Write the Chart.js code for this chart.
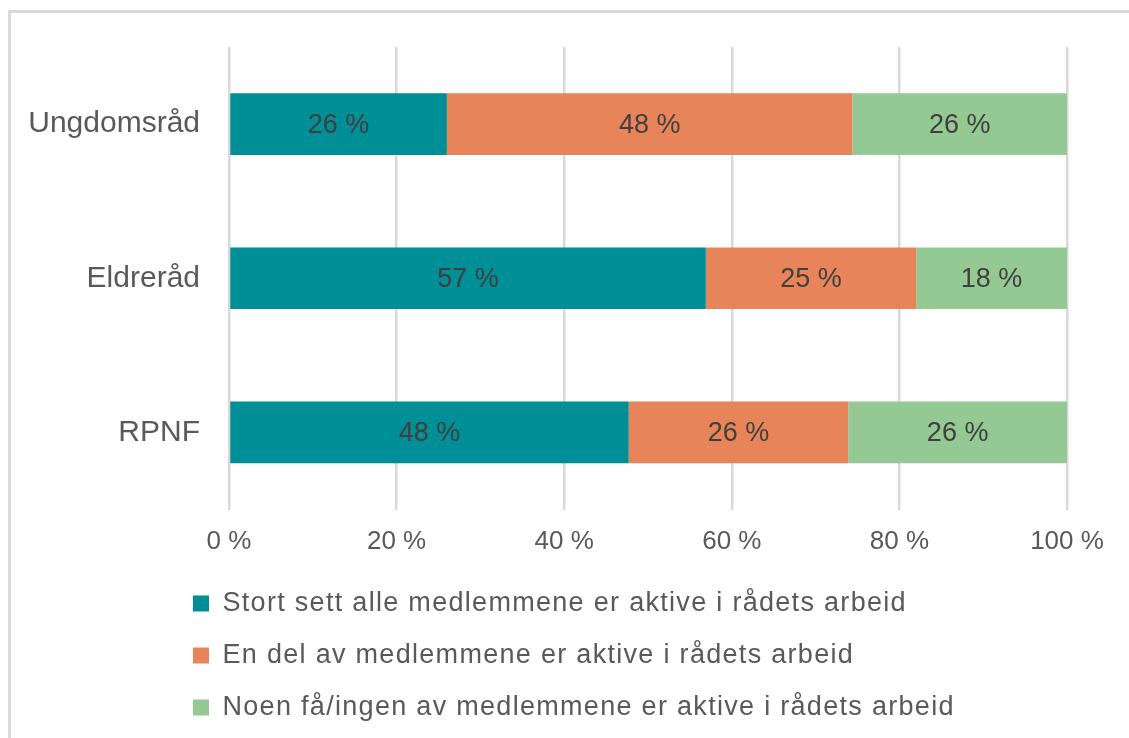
<!DOCTYPE html>
<html>
<head>
<meta charset="utf-8">
<script src="https://cdn.jsdelivr.net/npm/chart.js@4"></script>
<style>
  html, body { margin: 0; padding: 0; background: #fff; }
  #frame {
    position: absolute; left: 8px; top: 10px; width: 1200px; height: 800px;
    border-left: 3px solid #d9d9d9; border-top: 3px solid #d9d9d9;
  }
  #wrap { position: absolute; left: 0; top: 0; width: 1129px; height: 738px; }
</style>
</head>
<body>
<div id="frame"></div>
<div id="wrap"><canvas id="chart"></canvas></div>
<script>
const categories = ['Ungdomsråd', 'Eldreråd', 'RPNF'];
const seriesNames = [
  'Stort sett alle medlemmene er aktive i rådets arbeid',
  'En del av medlemmene er aktive i rådets arbeid',
  'Noen få/ingen av medlemmene er aktive i rådets arbeid'
];
const allActive = [26.0, 56.9, 47.7];
const someActive = [48.4, 25.1, 26.2];
const fewActive = [25.6, 18.0, 26.1];
const xTicks = [0, 20, 40, 60, 80, 100];

const colors = ['#008e97', '#e8845a', '#94c994'];
const font = '"Liberation Sans", Arial, sans-serif';

// percent labels in the middle of each bar segment
const barLabels = {
  id: 'barLabels',
  afterDatasetsDraw(chart) {
    const ctx = chart.ctx;
    ctx.save();
    ctx.font = '27px ' + font;
    ctx.fillStyle = '#404040';
    ctx.textAlign = 'center';
    ctx.textBaseline = 'middle';
    chart.data.datasets.forEach((ds, i) => {
      chart.getDatasetMeta(i).data.forEach((bar, j) => {
        ctx.fillText(Math.round(ds.data[j]) + ' %', (bar.x + bar.base) / 2, bar.y + 1);
      });
    });
    ctx.restore();
  }
};

// legend sits as a left aligned list under the plot
const legendShift = {
  id: 'legendShift',
  afterLayout(chart) {
    const lg = chart.legend;
    lg.left = 168;
    if (!lg._wrapped) {
      const orig = lg.draw;
      lg.draw = function() {
        chart.ctx.save();
        chart.ctx.letterSpacing = '1.3px';
        orig.call(this);
        chart.ctx.restore();
      };
      lg._wrapped = true;
    }
  }
};

new Chart(document.getElementById('chart'), {
  type: 'bar',
  data: {
    labels: categories,
    datasets: [
      { label: seriesNames[0], data: allActive, backgroundColor: colors[0] },
      { label: seriesNames[1], data: someActive, backgroundColor: colors[1] },
      { label: seriesNames[2], data: fewActive, backgroundColor: colors[2] }
    ]
  },
  options: {
    indexAxis: 'y',
    responsive: true,
    maintainAspectRatio: false,
    animation: false,
    barPercentage: 0.4,
    categoryPercentage: 1,
    layout: { padding: { left: 0, top: 44, right: 62, bottom: 7 } },
    plugins: {
      tooltip: { enabled: false },
      legend: {
        position: 'bottom',
        align: 'start',
        labels: {
          boxWidth: 16,
          boxHeight: 16,
          padding: 25,
          color: '#595959',
          font: { family: font, size: 27 }
        }
      }
    },
    scales: {
      x: {
        stacked: true,
        min: 0,
        max: 100,
        afterFit(scale) { scale.height = 55.5; },
        afterBuildTicks(scale) { scale.ticks = xTicks.map(v => ({ value: v })); },
        grid: { color: '#d9d9d9', lineWidth: 2.5, drawTicks: false },
        border: { display: false },
        ticks: {
          padding: 17,
          color: '#595959',
          font: { family: font, size: 26 },
          callback: v => v + ' %'
        }
      },
      y: {
        stacked: true,
        afterFit(scale) { scale.width = 229; },
        grid: { display: false, drawTicks: false },
        border: { display: false },
        ticks: {
          padding: 29,
          color: '#595959',
          font: { family: font, size: 30 }
        }
      }
    }
  },
  plugins: [barLabels, legendShift]
});
</script>
</body>
</html>
